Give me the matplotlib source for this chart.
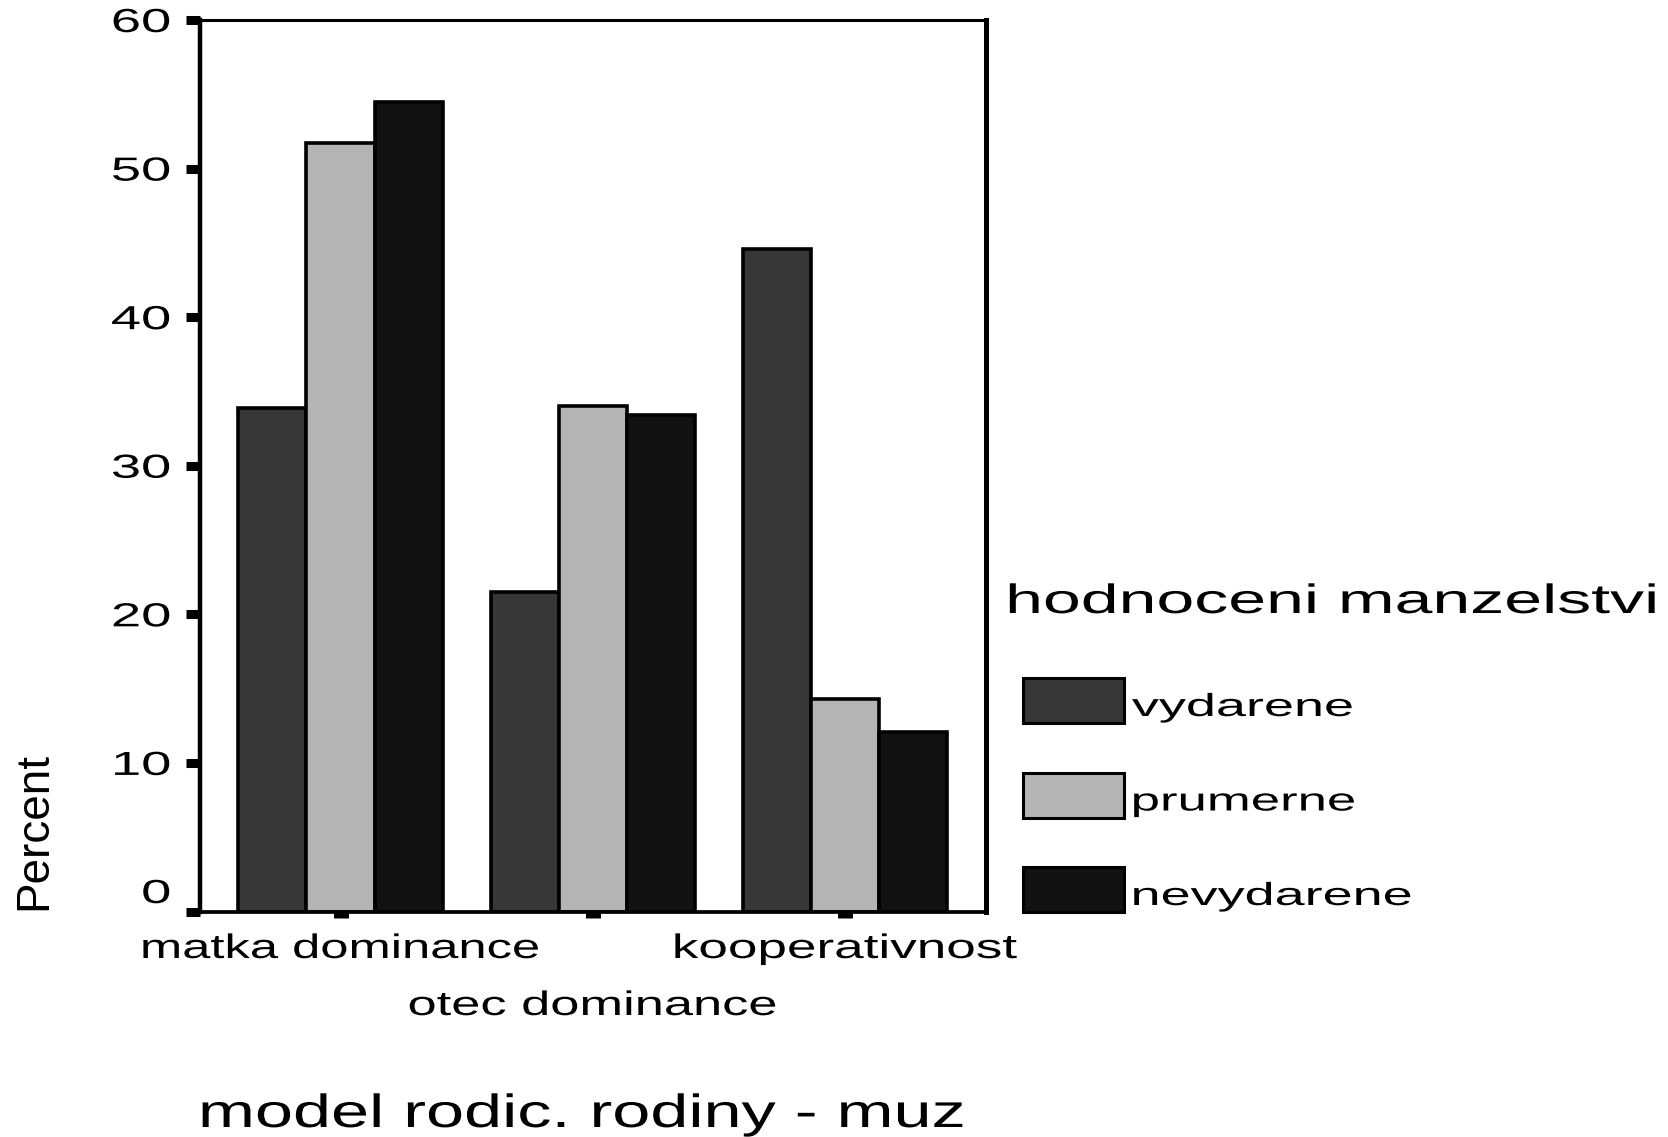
import matplotlib
matplotlib.use('Agg')
import matplotlib.pyplot as plt
import numpy as np
from matplotlib.patches import Rectangle
from matplotlib.patheffects import AbstractPathEffect
from matplotlib.transforms import Affine2D, ScaledTranslation

# Data (procenta v ramci kazde skupiny hodnoceni)
kategorie = ['matka dominance', 'otec dominance', 'kooperativnost']
serie = ['vydarene', 'prumerne', 'nevydarene']
vydarene = [33.9, 21.5, 44.6]
prumerne = [51.7, 34.0, 14.3]
nevydarene = [54.5, 33.4, 12.1]
y_ticks = [0, 10, 20, 30, 40, 50, 60]

barvy = ['#373737', '#b4b4b4', '#121212']

plt.rcParams['font.family'] = ['Liberation Sans', 'DejaVu Sans']


class Roztazeni(AbstractPathEffect):
    # SPSS kresli pismo siroke, tak ho roztahneme vodorovne
    def __init__(self, sx, kotva='center'):
        super().__init__()
        self.sx = sx
        self.kotva = kotva

    def draw_path(self, renderer, gc, tpath, affine, rgbFace=None):
        ext = tpath.get_extents(affine)
        x0 = {'left': ext.x0, 'center': (ext.x0 + ext.x1) / 2, 'right': ext.x1}[self.kotva]
        aff = affine + Affine2D().translate(-x0, 0).scale(self.sx, 1).translate(x0, 0)
        renderer.draw_path(gc, tpath, aff, rgbFace)


W, H = 1668, 1137
fig = plt.figure(figsize=(W / 100, H / 100), dpi=100)


def fx(px):
    return px / W


def fy(py):
    return 1 - py / H


ax = fig.add_axes([fx(200), fy(911.5), fx(985.5) - fx(200), fy(20) - fy(911.5)])

x = np.arange(len(kategorie))
sirka = 0.27
for i, (hodnoty, nazev, barva) in enumerate(zip([vydarene, prumerne, nevydarene], serie, barvy)):
    ax.bar(x + (i - 1) * sirka, hodnoty, sirka, color=barva, edgecolor='black',
           linewidth=2.6, label=nazev, zorder=2)

ax.set_xlim(-0.557, 2.557)
ax.set_ylim(0, 60)
ax.set_yticks(y_ticks)
ax.set_xticks(x)
ax.tick_params(labelleft=False, labelbottom=False)
ax.tick_params(axis='y', direction='out', length=10, width=6.5, color='black')
ax.tick_params(axis='x', direction='out', length=4.3, width=10.8, color='black')
ax.spines['left'].set_linewidth(3.2)
ax.spines['right'].set_linewidth(3.6)
ax.spines['top'].set_linewidth(2.2)
ax.spines['bottom'].set_linewidth(2.7)
for s in ax.spines.values():
    s.set_zorder(3)

# popisky osy y (nula je posunuta nahoru jako v SPSS)
ytrans = ax.get_yaxis_transform()
for v in y_ticks:
    dy = 0.085 if v == 0 else -0.12
    ax.text(0, v, str(v), transform=ytrans + ScaledTranslation(-0.295, dy, fig.dpi_scale_trans),
            ha='right', va='baseline', fontsize=24,
            path_effects=[Roztazeni(1.63, 'right')])

# popisky osy x ve dvou radcich
xtrans = ax.get_xaxis_transform()
x_roztazeni = [1.49, 1.54, 1.56]
for i, k in enumerate(kategorie):
    dy = -1.035 if i % 2 else -0.465
    ax.text(x[i], 0, k, transform=xtrans + ScaledTranslation(0, dy, fig.dpi_scale_trans),
            ha='center', va='baseline', fontsize=24.5,
            path_effects=[Roztazeni(x_roztazeni[i], 'center')])

fig.text(fx(582), fy(1127), 'model rodic. rodiny - muz', ha='center', va='baseline',
         fontsize=33.5, path_effects=[Roztazeni(1.47, 'center')])
fig.text(fx(34), fy(831), 'Percent', rotation=90, ha='center', va='center', fontsize=33)

# legenda
fig.text(fx(1007), fy(613), 'hodnoceni manzelstvi', ha='left', va='baseline',
         fontsize=29.5, path_effects=[Roztazeni(1.66, 'left')])
leg_roztazeni = [1.69, 1.65, 1.69]
for i, (nazev, barva) in enumerate(zip(serie, barvy)):
    top = 678 + i * 94.5
    fig.add_artist(Rectangle((fx(1023), fy(top + 45)), fx(101), 45 / H,
                             facecolor=barva, edgecolor='black', linewidth=2.2,
                             transform=fig.transFigure))
    fig.text(fx(1132), fy(top + 38), nazev, ha='left', va='baseline', fontsize=23,
             path_effects=[Roztazeni(leg_roztazeni[i], 'left')])

fig.savefig('out.png', dpi=100)
